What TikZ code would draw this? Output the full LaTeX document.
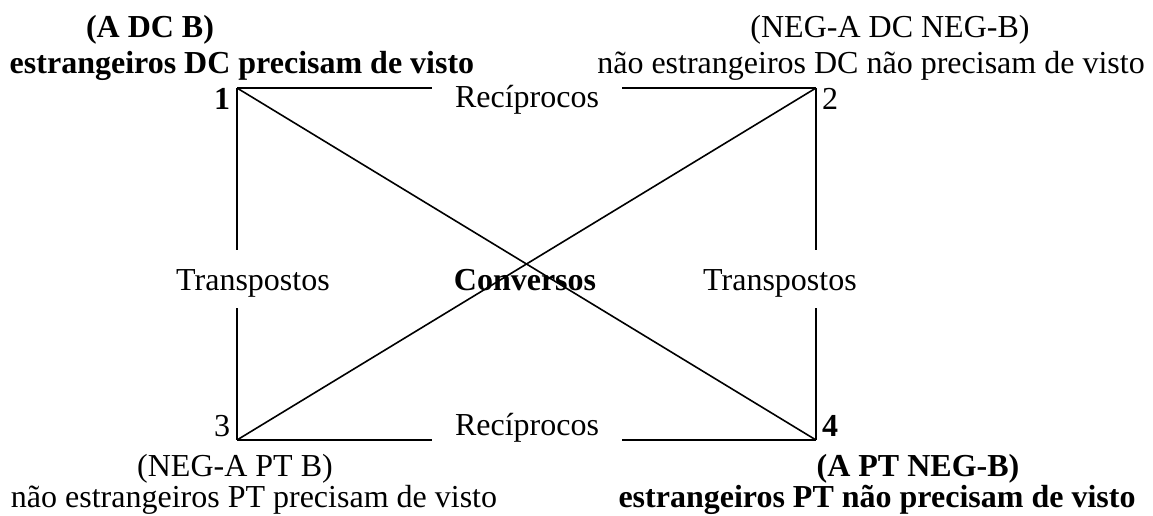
\documentclass[tikz,border=0pt]{standalone}
\usepackage{fontspec}
\setmainfont{Liberation Serif}
\begin{document}
\begin{tikzpicture}[x=1pt,y=-1pt,
  txt/.style={inner sep=0pt,anchor=base,font=\fontsize{32}{36}\selectfont},
  btxt/.style={txt,font=\fontsize{32}{36}\selectfont\bfseries},
  edge/.style={line width=1.6pt}]
\useasboundingbox (0,0) rectangle (1153,516);
% corners
\coordinate (c1) at (237,88);
\coordinate (c2) at (816,88);
\coordinate (c3) at (237,440);
\coordinate (c4) at (816,440);
% gap ends
\coordinate (t1) at (432,88);
\coordinate (t2) at (622,88);
\coordinate (b1) at (432,440);
\coordinate (b2) at (622,440);
\coordinate (l1) at (237,250);
\coordinate (l2) at (237,308);
\coordinate (r1) at (816,250);
\coordinate (r2) at (816,308);
% labels
\node[btxt] (h1a) at (150,38) {(A DC B)};
\node[btxt] (h1b) at (242,74) {estrangeiros DC precisam de visto};
\node[txt] (h2a) at (890,38) {(NEG-A DC NEG-B)};
\node[txt] (h2b) at (871,74) {não estrangeiros DC não precisam de visto};
\node[txt] (h3a) at (235,476) {(NEG-A PT B)};
\node[txt] (h3b) at (254,507) {não estrangeiros PT precisam de visto};
\node[btxt] (h4a) at (918,476) {(A PT NEG-B)};
\node[btxt] (h4b) at (877,507) {estrangeiros PT não precisam de visto};
\node[btxt] (n1) at (222,110) {1};
\node[txt] (n2) at (830,110) {2};
\node[txt] (n3) at (222,436) {3};
\node[btxt] (n4) at (830,436) {4};
\node[txt] (rt) at (527,108) {Recíprocos};
\node[txt] (rb) at (527,435) {Recíprocos};
\node[txt] (tl) at (253,290) {Transpostos};
\node[txt] (tr) at (780,290) {Transpostos};
\node[btxt] (cv) at (525,290) {Conversos};
% connectors
\draw[edge] (c1) -- (t1);
\draw[edge] (t2) -- (c2);
\draw[edge] (c3) -- (b1);
\draw[edge] (b2) -- (c4);
\draw[edge] (c1) -- (l1);
\draw[edge] (l2) -- (c3);
\draw[edge] (c2) -- (r1);
\draw[edge] (r2) -- (c4);
\draw[edge] (c1) -- (c4);
\draw[edge] (c2) -- (c3);
\end{tikzpicture}
\end{document}
